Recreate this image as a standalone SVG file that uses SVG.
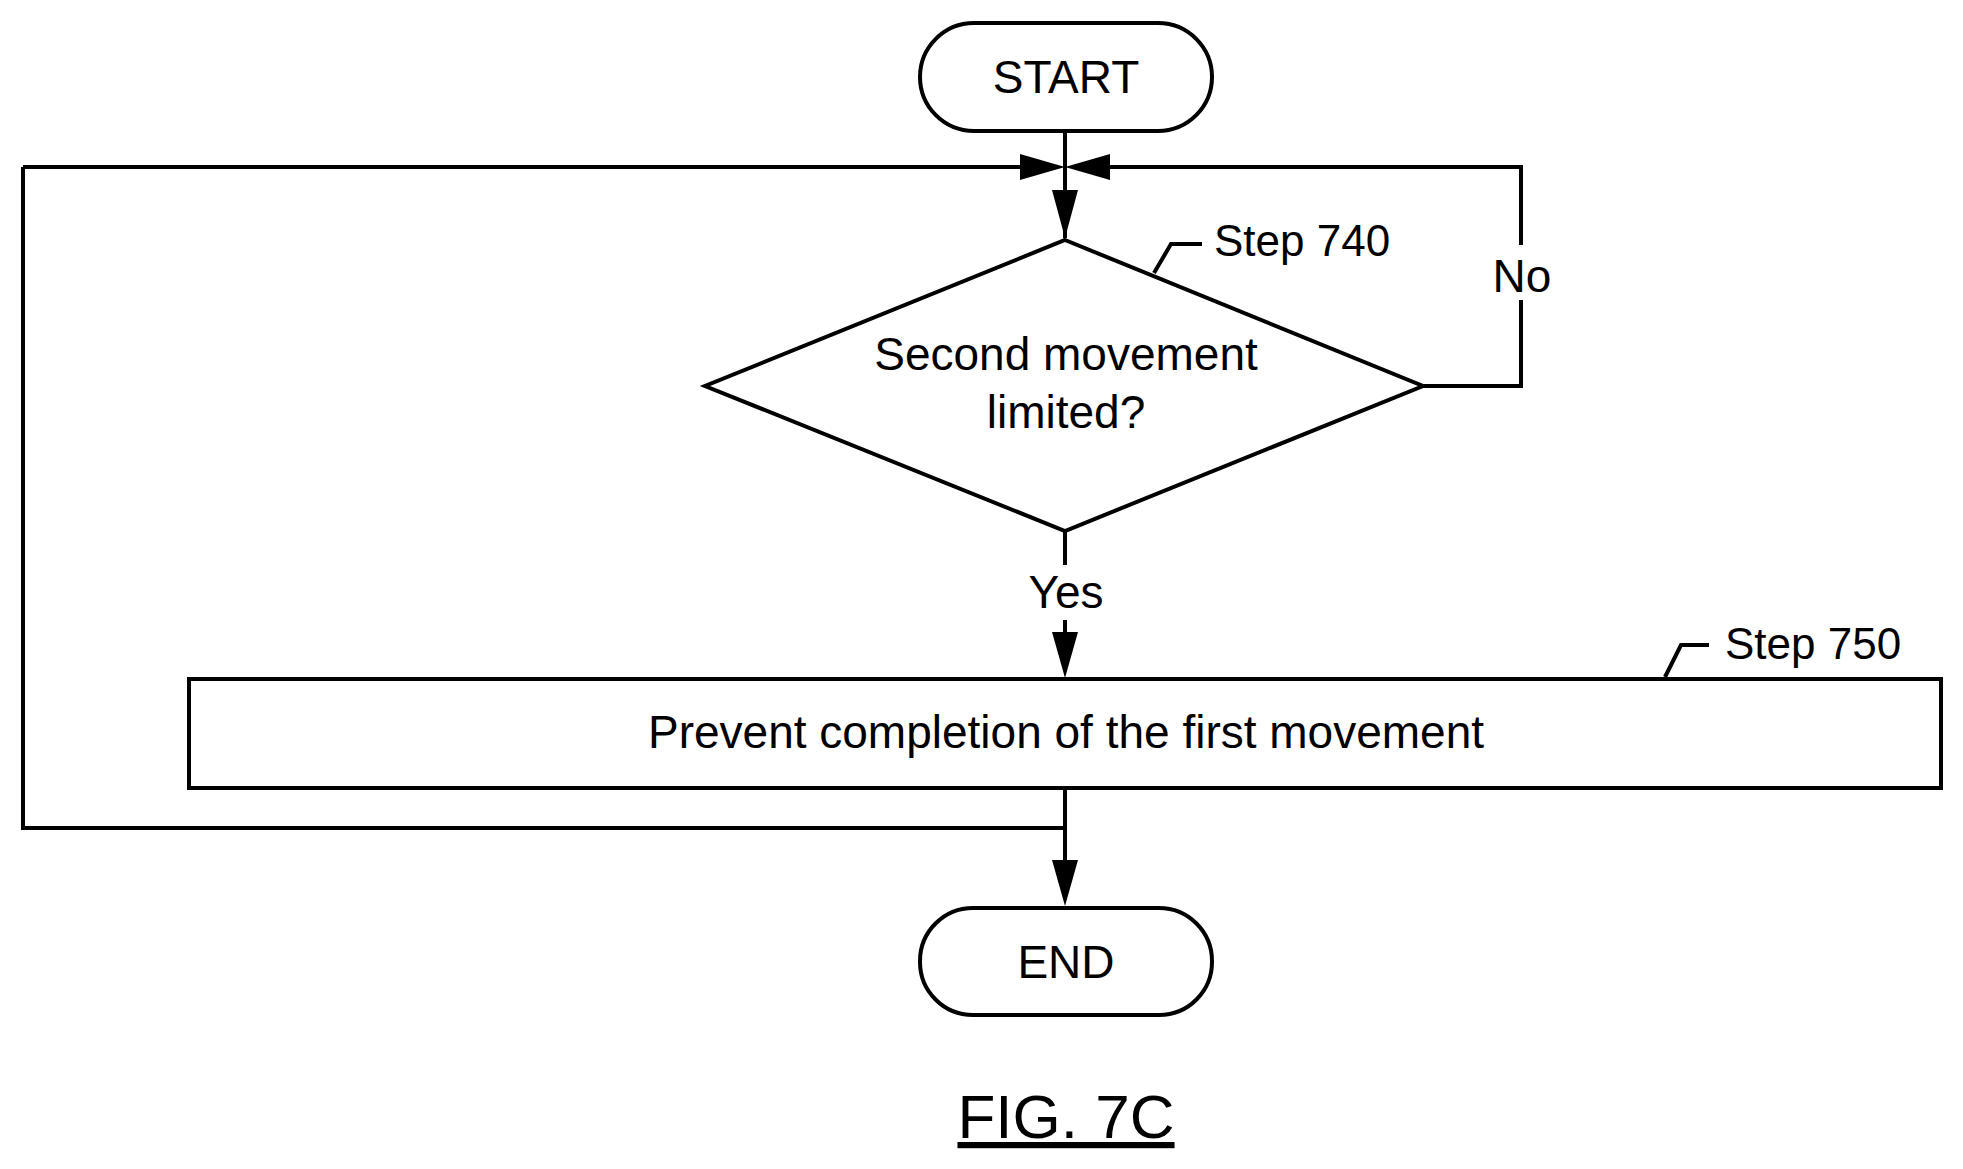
<svg xmlns="http://www.w3.org/2000/svg" width="1963" height="1169" viewBox="0 0 1963 1169">
<style>
.s{fill:#fff;stroke:#000;stroke-width:4}
.l{fill:none;stroke:#000;stroke-width:4}
text{font-family:"Liberation Sans",Arial,sans-serif;fill:#000}
.t{font-size:46px;text-anchor:middle}
.g{font-size:44px}
</style>
<defs>
<marker id="a" viewBox="0 0 10 10" refX="10" refY="5" markerWidth="10" markerHeight="10" markerUnits="userSpaceOnUse" orient="auto"><path d="M0,0 L10,5 L0,10 Z" fill="#000"/></marker>
</defs>
<g id="connectors">
<path class="l" d="M1065,131 V238" marker-end="url(#b)"/>
<path class="l" d="M1065,131 V190"/>
<polygon points="1052,190 1078,190 1065,238"/>
<path class="l" d="M23,167 H1020"/>
<polygon points="1020,154 1020,180 1065,167"/>
<path class="l" d="M1423,386 H1521 V300 M1521,245 V167 H1110"/>
<polygon points="1110,154 1110,180 1065,167"/>
<path class="l" d="M1065,531 V565 M1065,620 V632"/>
<polygon points="1052,632 1078,632 1065,678"/>
<path class="l" d="M1065,788 V860 M23,167 V828 H1065"/>
<polygon points="1052,860 1078,860 1065,906"/>
<path class="l" d="M1154,273 L1171,244 H1202"/>
<path class="l" d="M1665,677 L1681,645 H1709"/>
</g>
<g id="start"><rect class="s" x="920" y="23" width="292" height="108" rx="54"/><text class="t" x="1066" y="93">START</text></g>
<g id="step740"><polygon class="s" points="1065,240 1423,386 1065,531 705,386"/><text class="t" x="1066" y="370">Second movement</text><text class="t" x="1066" y="428">limited?</text><text class="g" x="1214" y="256">Step 740</text></g>
<g id="no"><text class="t" x="1522" y="292">No</text></g>
<g id="yes"><text class="t" x="1066" y="608">Yes</text></g>
<g id="step750"><rect class="s" x="189" y="679" width="1752" height="109"/><text class="t" x="1066" y="748">Prevent completion of the first movement</text><text class="g" x="1725" y="659">Step 750</text></g>
<g id="end"><rect class="s" x="920" y="908" width="292" height="107" rx="53"/><text class="t" x="1066" y="978">END</text></g>
<g id="fig"><text x="1066" y="1138" style="font-size:62px;text-anchor:middle;text-decoration:underline">FIG. 7C</text></g>
</svg>
